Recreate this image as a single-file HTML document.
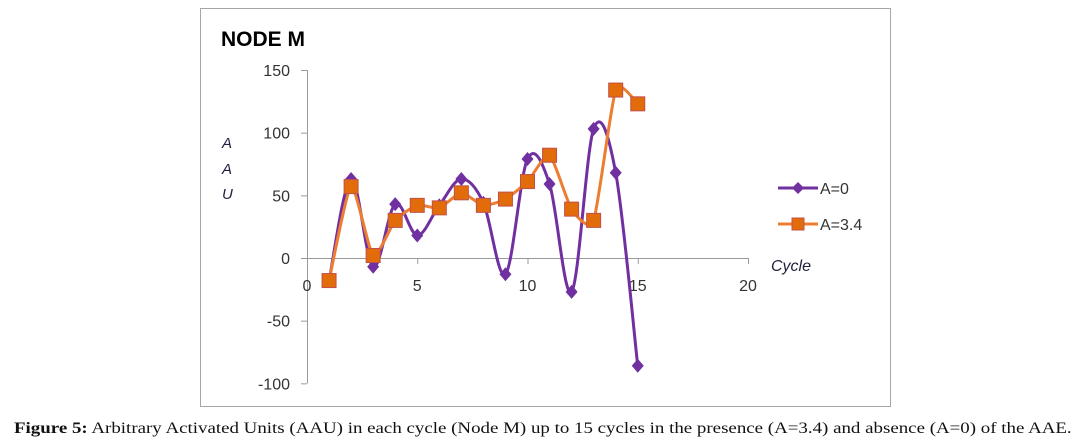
<!DOCTYPE html>
<html><head><meta charset="utf-8"><style>
body{margin:0;background:#fff;width:1081px;height:447px;overflow:hidden;position:relative}
.cap{position:absolute;left:14px;top:420px;font-family:"Liberation Serif",serif;font-size:16px;color:#111;white-space:nowrap;transform-origin:0 0;transform:scaleX(1.182)}
</style></head><body>
<svg width="1081" height="447" style="position:absolute;left:0;top:0">
<rect x="200.5" y="8.5" width="690" height="398" fill="#fff" stroke="#a6a6a6"/>
<text x="221" y="46" font-family="Liberation Sans,sans-serif" font-weight="bold" font-size="21" fill="#000">NODE M</text>
<g id="axes"></g>
<g id="series"></g>
<g font-family="Liberation Sans,sans-serif" font-style="italic" font-size="15" fill="#1f1f3f">
<text x="222" y="148">A</text><text x="222" y="174">A</text><text x="222" y="199">U</text></g>
<text x="771" y="271" font-family="Liberation Sans,sans-serif" font-style="italic" font-size="16" fill="#1f1f3f">Cycle</text>
<g font-family="Liberation Sans,sans-serif" font-size="16" fill="#333">
<g><line x1="778" y1="188" x2="818" y2="188" stroke="#7030a0" stroke-width="3"/><path d="M798 182 L804 188 L798 194 L792 188Z" fill="#7030a0"/><text x="820" y="194">A=0</text></g>
<g><line x1="778" y1="224" x2="818" y2="224" stroke="#ed7d31" stroke-width="3"/><rect x="792" y="218" width="12" height="12" fill="#e36c0a" stroke="#c0504d"/><text x="820" y="230">A=3.4</text></g>
</g>
</svg>
<div class="cap"><b>Figure 5:</b> Arbitrary Activated Units (AAU) in each cycle (Node M) up to 15 cycles in the presence (A=3.4) and absence (A=0) of the AAE.</div>
<script>
const cycles=[1,2,3,4,5,6,7,8,9,10,11,12,13,14,15];
const seriesA0=[-18,63,-7,43,18,42,63,44,-13,79,59,-27,103,68,-86];
const seriesA34=[-18,57,2,30,42,40,52,42,47,61,82,39,30,134,123];
const xTicks=[0,5,10,15,20];
const yTicks=[-100,-50,0,50,100,150];
const NS='http://www.w3.org/2000/svg';
const X=v=>307+v*(748-307)/20;
const Y=v=>258-v*(188/150);
function mk(tag,attrs,parent){const e=document.createElementNS(NS,tag);for(const k in attrs)e.setAttribute(k,attrs[k]);parent.appendChild(e);return e;}
const ax=document.getElementById('axes');
const yl=mk('line',{x1:X(0)+.5,x2:X(0)+.5,y1:Y(150),y2:Y(-100),stroke:'#9a9a9a'},ax);


const xl=mk('line',{x1:X(0),x2:X(20),y1:Y(0)+.5,y2:Y(0)+.5,stroke:'#9a9a9a'},ax);


yTicks.forEach(t=>{
  mk('line',{x1:X(0)-6,x2:X(0),y1:Y(t)+.5,y2:Y(t)+.5,stroke:'#9a9a9a'},ax);
  const tx=mk('text',{x:X(0)-17,y:Y(t)+6,'text-anchor':'end','font-family':'Liberation Sans,sans-serif','font-size':'16',fill:'#333'},ax);
  tx.textContent=t;
  
  
});
xTicks.forEach(t=>{
  mk('line',{x1:X(t)+.5,x2:X(t)+.5,y1:Y(0),y2:Y(0)+6,stroke:'#9a9a9a'},ax);
  const tx=mk('text',{x:X(t),y:Y(0)+33,'text-anchor':'middle','font-family':'Liberation Sans,sans-serif','font-size':'16',fill:'#333'},ax);
  tx.textContent=t;
  
  
});
function spline(pts,ten){let d='M'+pts[0][0]+' '+pts[0][1];
  for(let i=0;i<pts.length-1;i++){const p0=pts[i-1]||pts[i],p1=pts[i],p2=pts[i+1],p3=pts[i+2]||p2;
    const t=ten/3;
    d+=` C${p1[0]+(p2[0]-p0[0])*t} ${p1[1]+(p2[1]-p0[1])*t} ${p2[0]-(p3[0]-p1[0])*t} ${p2[1]-(p3[1]-p1[1])*t} ${p2[0]} ${p2[1]}`;}
  return d;}
const sg=document.getElementById('series');
const p0=cycles.map((c,i)=>[X(c),Y(seriesA0[i])]);
const p1=cycles.map((c,i)=>[X(c),Y(seriesA34[i])]);
const l0=mk('path',{d:spline(p0,0.5),fill:'none',stroke:'#7030a0','stroke-width':3},sg);


p0.forEach(p=>{const m=mk('path',{d:`M${p[0]} ${p[1]-7}L${p[0]+6} ${p[1]}L${p[0]} ${p[1]+7}L${p[0]-6} ${p[1]}Z`,fill:'#7030a0'},sg);
  
  });
const l1=mk('path',{d:spline(p1,0.3),fill:'none',stroke:'#ed7d31','stroke-width':3},sg);


p1.forEach(p=>{const m=mk('rect',{x:p[0]-7,y:p[1]-7,width:14,height:14,fill:'#e36c0a',stroke:'#c0504d'},sg);
  
  });
</script>
</body></html>
